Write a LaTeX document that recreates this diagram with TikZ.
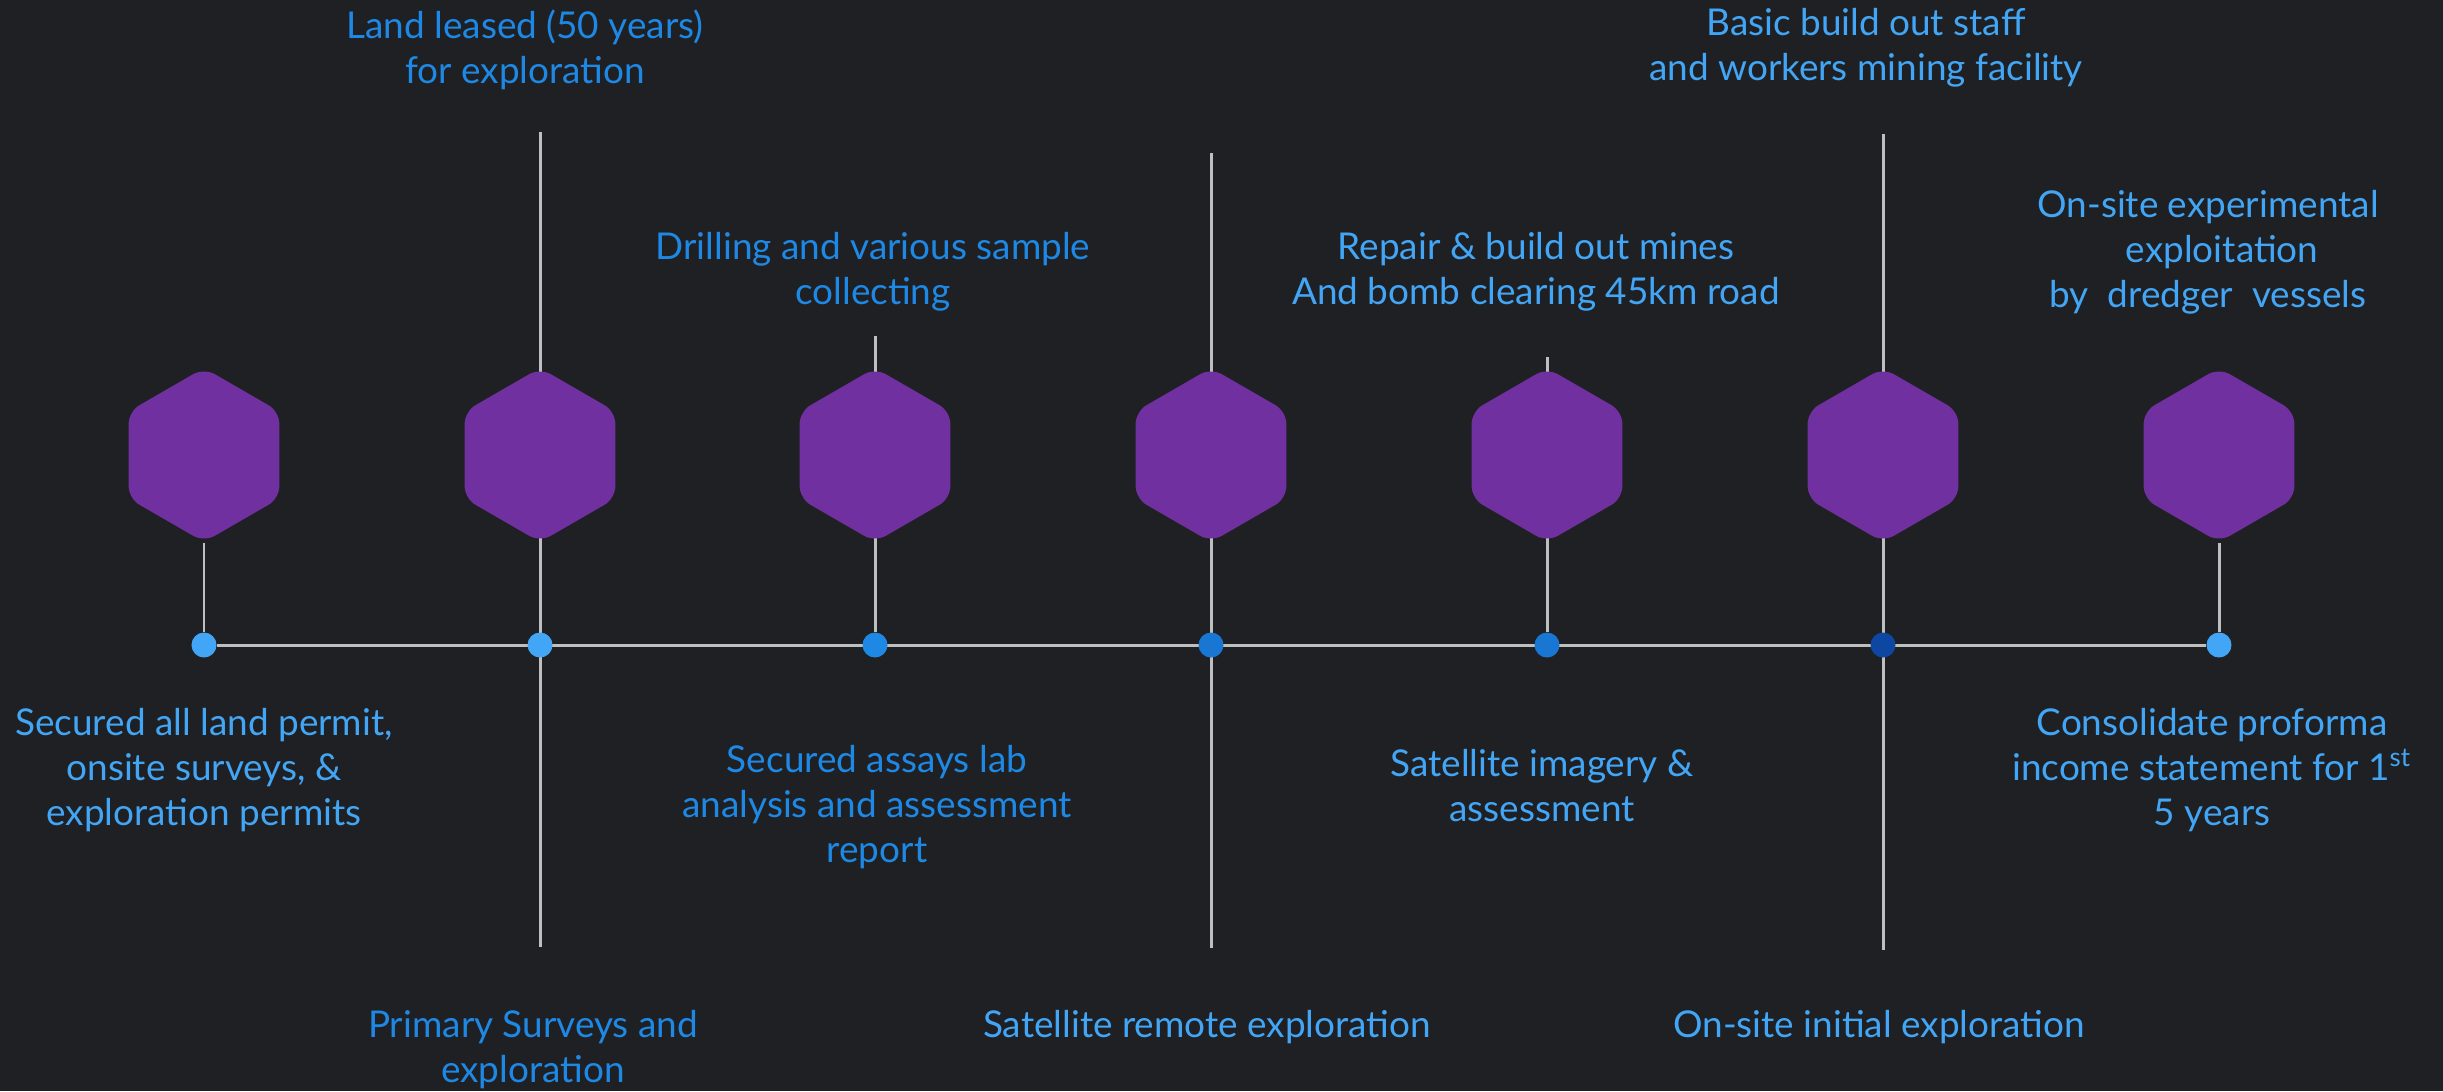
\documentclass[tikz,border=0pt]{standalone}
\usepackage{fontspec}
\setmainfont{Lato}
\usetikzlibrary{shapes.geometric}
\definecolor{bgdark}{HTML}{1F2024}
\definecolor{hexpurple}{HTML}{7030A0}
\definecolor{stemgray}{HTML}{BFBFBF}
\definecolor{bluelight}{HTML}{42A5F5}
\definecolor{bluemid}{HTML}{1E88E5}
\definecolor{bluedeep}{HTML}{1976D2}
\definecolor{bluedark}{HTML}{0D47A1}
\pgfdeclarelayer{back}
\pgfsetlayers{back,main}

\begin{document}
\begin{tikzpicture}[x=0.01cm,y=-0.01cm,
    hexa/.style={regular polygon,regular polygon sides=6,shape border rotate=30,
      minimum size=1.74cm,inner sep=0pt,fill=hexpurple,rounded corners=3.5pt},
    dot/.style={circle,minimum size=0.25cm,inner sep=0pt,fill=#1},
    stem/.style={stemgray,line width=0.85pt},
    tltext/.style={align=center,font=\fontsize{10.5}{12.8}\selectfont,text=#1},
    tltext/.default=bluelight]
    \useasboundingbox (0,0) rectangle (2443,1091);
    % hexagons
    \node [hexa] (h1) at (204,455) {};
    \node [hexa] (h2) at (540,455) {};
    \node [hexa] (h3) at (875,455) {};
    \node [hexa] (h4) at (1211,455) {};
    \node [hexa] (h5) at (1547,455) {};
    \node [hexa] (h6) at (1883,455) {};
    \node [hexa] (h7) at (2219,455) {};
    % dots on the time line
    \node [dot=bluelight] (d1) at (204,645) {};
    \node [dot=bluelight] (d2) at (540,645) {};
    \node [dot=bluemid] (d3) at (875,645) {};
    \node [dot=bluedeep] (d4) at (1211,645) {};
    \node [dot=bluedeep] (d5) at (1547,645) {};
    \node [dot=bluedark] (d6) at (1883,645) {};
    \node [dot=bluelight] (d7) at (2219,645) {};
    % stem ends
    \coordinate (t2) at (540,132);
    \coordinate (b2) at (540,947);
    \coordinate (t3) at (875,336);
    \coordinate (t4) at (1211,153);
    \coordinate (b4) at (1211,948);
    \coordinate (t5) at (1547,357);
    \coordinate (t6) at (1883,134);
    \coordinate (b6) at (1883,950);
    \begin{pgfonlayer}{back}
        \fill [bgdark] (0,0) rectangle (2443,1091);
        \draw [stem] (d1) -- (d7);
        \draw [stem] (h1) -- (d1);
        \draw [stem] (t2) -- (b2);
        \draw [stem] (t3) -- (d3);
        \draw [stem] (t4) -- (b4);
        \draw [stem] (t5) -- (d5);
        \draw [stem] (t6) -- (b6);
        \draw [stem] (h7) -- (d7);
    \end{pgfonlayer}
    % texts above
    \node [tltext=bluemid] (up2) at (525,50) {Land leased (50 years)\\for exploration};
    \node [tltext=bluemid] (up3) at (873,272) {Drilling and various sample\\collecting};
    \node [tltext] (up5) at (1536,272) {Repair \& build out mines\\And bomb clearing 45km road};
    \node [tltext] (up6) at (1866,48) {Basic build out staff\\and workers mining facility};
    \node [tltext] (up7) at (2208,252) {On-site experimental\\\hspace*{8pt}exploitation\\by\ \ dredger\ \ vessels};
    % texts below
    \node [tltext] (lo1) at (204,770) {Secured all land permit,\\onsite surveys, \&\\exploration permits};
    \node [tltext=bluemid] (lo3) at (877,807) {Secured assays lab\\analysis and assessment\\report};
    \node [tltext] (lo5) at (1542,786) {Satellite imagery \&\\assessment};
    \node [tltext] (lo7) at (2212,770) {Consolidate proforma\\income statement for 1\textsuperscript{st}\\5 years};
    \node [tltext=bluemid] (lo2) at (533,1050) {Primary Surveys and\\exploration};
    \node [tltext] (lo4) at (1207,1027) {Satellite remote exploration};
    \node [tltext] (lo6) at (1879,1027) {On-site initial exploration};
\end{tikzpicture}
\end{document}
